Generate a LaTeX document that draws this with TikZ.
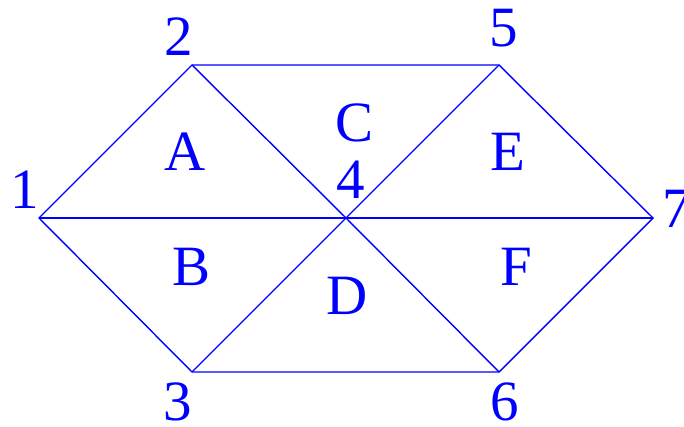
\documentclass[tikz,border=0pt]{standalone}
\usepackage{fontspec}
\setmainfont{Liberation Serif}
\begin{document}
\begin{tikzpicture}[x=1pt,y=-1pt,
  edge/.style={draw=blue,line width=1.4pt,line join=miter},
  lbl/.style={text=blue,anchor=base,inner sep=0pt,font=\fontsize{57}{60}\selectfont}]
\useasboundingbox (0,0) rectangle (684,427);
\coordinate (v1) at (39,218);
\coordinate (v2) at (192,65);
\coordinate (v3) at (192,372);
\coordinate (v4) at (346,218);
\coordinate (v5) at (499,65);
\coordinate (v6) at (499,372);
\coordinate (v7) at (653,218);
\draw[edge] (v1) -- (v2) -- (v5) -- (v7) -- (v6) -- (v3) -- cycle;
\draw[edge] (v1) -- (v4) -- (v7);
\draw[edge] (v2) -- (v4) -- (v6);
\draw[edge] (v5) -- (v4) -- (v3);
\node[lbl] (n1) at (25,209) {1};
\node[lbl] (n2) at (179,56) {2};
\node[lbl] (n3) at (178,420) {3};
\node[lbl] (n4) at (351,199) {4};
\node[lbl] (n5) at (504,47) {5};
\node[lbl] (n6) at (505,420) {6};
\node[lbl] (n7) at (677,228) {7};
\node[lbl] (A) at (185,171) {A};
\node[lbl] (B) at (192,285) {B};
\node[lbl] (C) at (355,142) {C};
\node[lbl] (D) at (347,314) {D};
\node[lbl] (E) at (508,171) {E};
\node[lbl] (F) at (516,285) {F};
\end{tikzpicture}
\end{document}
